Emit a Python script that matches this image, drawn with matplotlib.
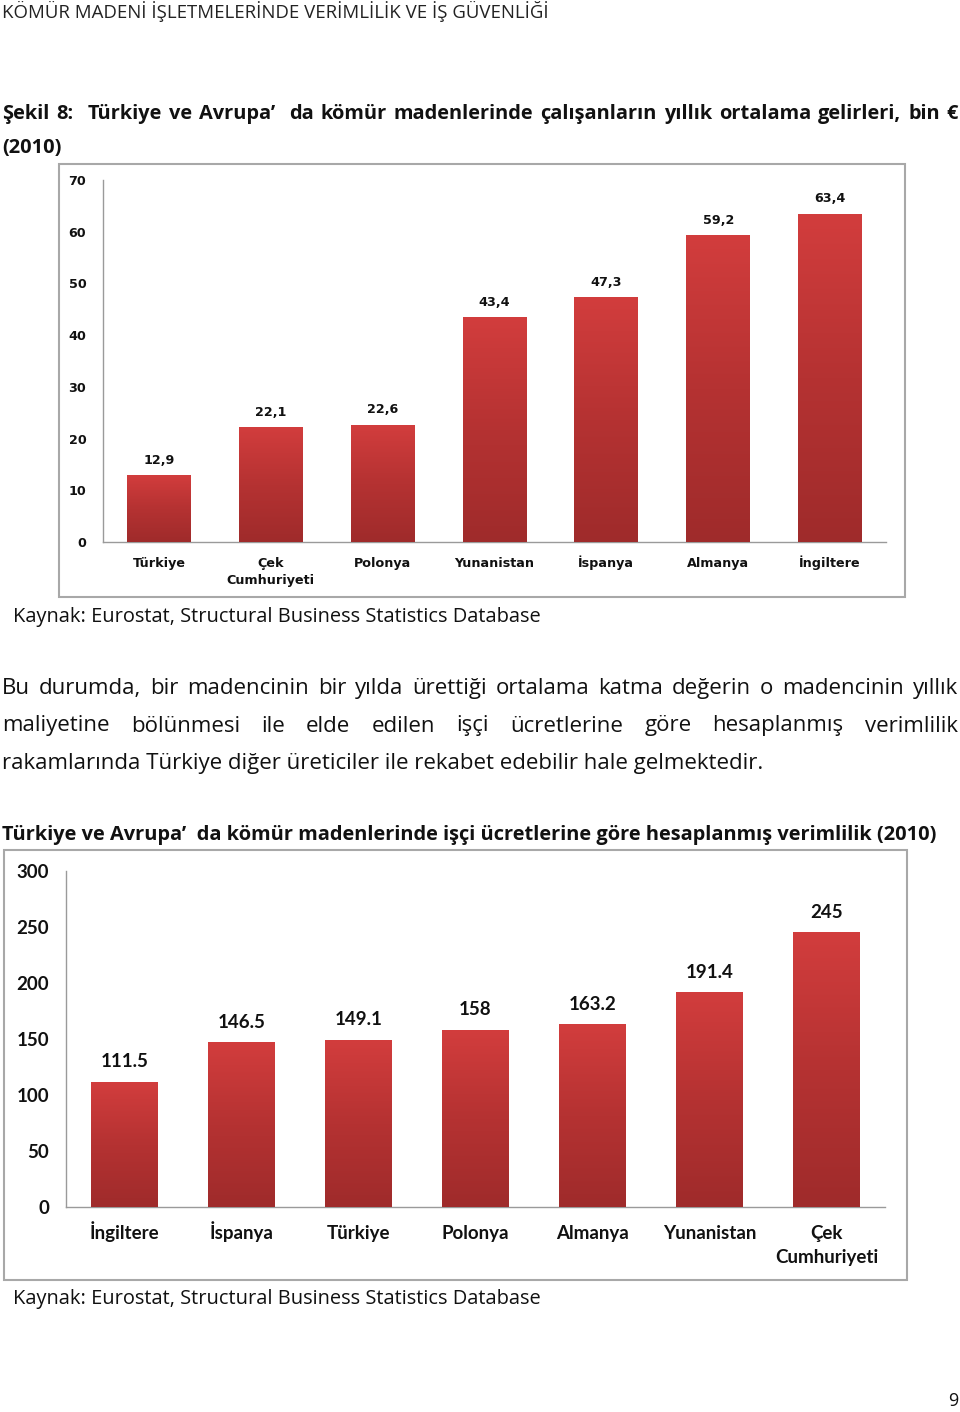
import numpy as np
import matplotlib
matplotlib.use("Agg")
import matplotlib.pyplot as plt
from matplotlib.patches import Rectangle
from matplotlib.colors import LinearSegmentedColormap

W, H = 960, 1412

header = "KÖMÜR MADENİ İŞLETMELERİNDE VERİMLİLİK VE İŞ GÜVENLİĞİ"
title1_line1 = "Şekil 8:  Türkiye ve Avrupa’  da kömür madenlerinde çalışanların yıllık ortalama gelirleri, bin €"
title1_line2 = "(2010)"
source = "Kaynak: Eurostat, Structural Business Statistics Database"
para_lines = [
    "Bu durumda, bir madencinin bir yılda ürettiği ortalama katma değerin o madencinin yıllık",
    "maliyetine bölünmesi ile elde edilen işçi ücretlerine göre hesaplanmış verimlilik",
    "rakamlarında Türkiye diğer üreticiler ile rekabet edebilir hale gelmektedir.",
]
title2 = "Türkiye ve Avrupa’  da kömür madenlerinde işçi ücretlerine göre hesaplanmış verimlilik (2010)"
page_no = "9"

# chart 1: yearly average income, thousand EUR
countries1 = ["Türkiye", "Çek\nCumhuriyeti", "Polonya", "Yunanistan", "İspanya", "Almanya", "İngiltere"]
income = [12.9, 22.1, 22.6, 43.4, 47.3, 59.2, 63.4]
ticks1 = [0, 10, 20, 30, 40, 50, 60, 70]

# chart 2: productivity by wages
countries2 = ["İngiltere", "İspanya", "Türkiye", "Polonya", "Almanya", "Yunanistan", "Çek\nCumhuriyeti"]
productivity = [111.5, 146.5, 149.1, 158, 163.2, 191.4, 245]
ticks2 = [0, 50, 100, 150, 200, 250, 300]

red_grad = LinearSegmentedColormap.from_list("redgrad", ["#9f2b2b", "#b53232", "#d23d3d"])

fig = plt.figure(figsize=(W / 100, H / 100), dpi=100)
fig.patch.set_facecolor("white")
rend = fig.canvas.get_renderer()


def fx(x):
    return x / W


def fy(y):
    return 1 - y / H


def put(x, y, s, **kw):
    return fig.text(fx(x), fy(y), s, **kw)


def text_w(s, **kw):
    if s == "":
        return 0.0
    t = fig.text(0, 0, s, **kw)
    w = t.get_window_extent(rend).width
    t.remove()
    return w


def fit_size(s, width, **kw):
    # font size that makes s about `width` pixels wide
    return 10 * width / text_w(s, fontsize=10, **kw)


def justify(line, x0, x1, y, **kw):
    # empty pieces (from double spaces) just add one more gap
    words = line.split(" ")
    widths = [text_w(w, **kw) for w in words]
    gap = ((x1 - x0) - sum(widths)) / (len(words) - 1)
    x = x0
    for w, wd in zip(words, widths):
        if w:
            put(x, y, w, ha="left", va="baseline", **kw)
        x += wd + gap


def bar_chart(rect, names, vals, ticks, labels, font, size, val_off, tick_pad,
              name_base, name_step):
    left, top, right, bottom = rect
    ax = fig.add_axes([fx(left), fy(bottom), fx(right - left), (bottom - top) / H])
    x = np.arange(len(names))
    bars = ax.bar(x, vals, width=0.57, color="#bb3434", zorder=2)
    grad = np.linspace(0, 1, 256).reshape(-1, 1)
    for b in bars:
        x0, y0 = b.get_x(), b.get_y()
        ax.imshow(grad, cmap=red_grad, origin="lower", aspect="auto", zorder=3,
                  extent=[x0, x0 + b.get_width(), y0, y0 + b.get_height()])
    for xi, v, lab in zip(x, vals, labels):
        ax.annotate(lab, (xi, v), xytext=(0, val_off), textcoords="offset points",
                    ha="center", va="center", fontsize=size, fontweight="bold",
                    family=font, color="#111111")
    # category names, baseline aligned, one line at a time
    for xi, name in zip(x, names):
        for k, part in enumerate(name.split("\n")):
            ax.annotate(part, (xi, 0), xytext=(0, -(name_base + k * name_step) * 0.72),
                        textcoords="offset points", ha="center", va="baseline",
                        fontsize=size, fontweight="bold", family=font, color="#111111",
                        annotation_clip=False)
    ax.set_xlim(-0.5, len(names) - 0.5)
    ax.set_ylim(ticks[0], ticks[-1])
    ax.set_yticks(ticks)
    ax.set_xticks([])
    ax.set_yticklabels([str(t) for t in ticks], fontsize=size, fontweight="bold",
                       family=font, color="#111111")
    ax.tick_params(axis="y", length=0, pad=tick_pad)
    for s in ["top", "right"]:
        ax.spines[s].set_visible(False)
    for s in ["left", "bottom"]:
        ax.spines[s].set_color("#9a9a9a")
        ax.spines[s].set_linewidth(1.0)
    ax.set_facecolor("none")
    return ax


body = dict(family="Open Sans", color="#111111")
head = dict(family="Open Sans", fontweight="bold", color="#111111")

# page header and headings
put(2, 18, header, ha="left", va="baseline", fontsize=fit_size(header, 546, family="Open Sans"),
    family="Open Sans", color="#222222")
t2_size = fit_size(title2, 936, **head)
justify(title1_line1, 2, 958, 119, fontsize=t2_size, **head)
put(2, 153, title1_line2, ha="left", va="baseline", fontsize=t2_size, **head)

# chart 1 frame + plot
fig.patches.append(Rectangle((fx(59), fy(597)), fx(905 - 59), (597 - 164) / H,
                             transform=fig.transFigure, fill=False, edgecolor="#a8a8a8", lw=1.5))
bar_chart((103, 180, 886, 542), countries1, income, ticks1,
          [f"{v:.1f}".replace(".", ",") for v in income],
          "DejaVu Sans", 9.2, 11, 12, 25, 17)

src_size = fit_size(source, 528, **body)
put(13, 622, source, ha="left", va="baseline", fontsize=src_size, **body)

# paragraph
para_size = fit_size(para_lines[2], 761, **body)
for i, line in enumerate(para_lines):
    yy = 694 + i * 37.5
    if i < 2:
        justify(line, 2, 958, yy, fontsize=para_size, **body)
    else:
        put(2, yy, line, ha="left", va="baseline", fontsize=para_size, **body)

put(2, 840, title2, ha="left", va="baseline", fontsize=t2_size, **head)

# chart 2 frame + plot
fig.patches.append(Rectangle((fx(4), fy(1280)), fx(907 - 4), (1280 - 850) / H,
                             transform=fig.transFigure, fill=False, edgecolor="#a8a8a8", lw=1.5))
bar_chart((66, 871, 885, 1207), countries2, productivity, ticks2,
          [f"{v:g}" for v in productivity],
          "Lato", 13.5, 14.5, 12, 32, 24)

put(13, 1304, source, ha="left", va="baseline", fontsize=src_size, **body)
put(958, 1406, page_no, ha="right", va="baseline", fontsize=13, **body)

fig.savefig("out.png", dpi=100, facecolor="white")
